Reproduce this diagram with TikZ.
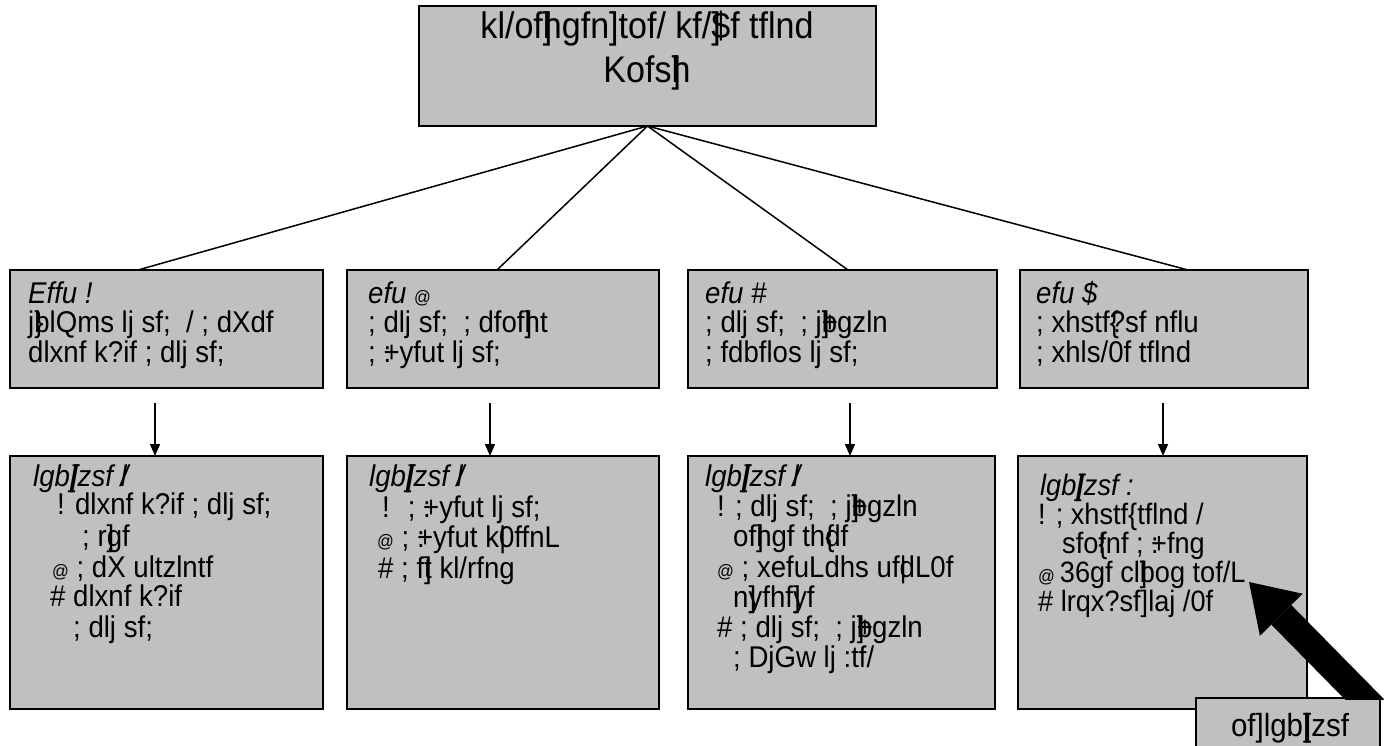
\documentclass[tikz,border=0pt]{standalone}
\usepackage{fontspec}
\setmainfont{Liberation Sans}[FakeStretch=0.92]
\usetikzlibrary{arrows.meta}
\newcommand\ovl[1]{\rlap{#1}}
\newcommand\smat{{\fontsize{18}{18}\selectfont @}}
\definecolor{boxgray}{RGB}{192,192,192}
\begin{document}
\begin{tikzpicture}[x=1pt,y=-1pt,
  box/.style={draw=black,line width=2pt,fill=boxgray,inner sep=0pt,outer sep=0pt},
  txt/.style={anchor=base west,inner sep=0pt,font=\fontsize{30}{30}\selectfont},
  bigtxt/.style={anchor=base west,inner sep=0pt,font=\fontsize{29.5}{29.5}\selectfont},
  toptxt/.style={anchor=base,inner sep=0pt,font=\fontsize{37}{37}\selectfont},
  link/.style={draw=black,line width=1.5pt},
  varrow/.style={draw=black,line width=1.5pt,-{Triangle[length=12pt,width=10pt]}}]
\useasboundingbox (0,0) rectangle (1384,746);
\fill[white] (0,0) rectangle (1384,746);
% boxes
\node[box,minimum width=457pt,minimum height=120pt] (T) at (647.5,66) {};
\node[box,minimum width=313pt,minimum height=118pt] (m1) at (166.5,329) {};
\node[box,minimum width=312pt,minimum height=118pt] (m2) at (503,329) {};
\node[box,minimum width=309pt,minimum height=118pt] (m3) at (842.5,329) {};
\node[box,minimum width=288pt,minimum height=118pt] (m4) at (1164,329) {};
\node[box,minimum width=313pt,minimum height=253pt] (b1) at (166.5,582.5) {};
\node[box,minimum width=312pt,minimum height=253pt] (b2) at (503,582.5) {};
\node[box,minimum width=307pt,minimum height=253pt] (b3) at (841.5,582.5) {};
\node[box,minimum width=289pt,minimum height=253pt] (b4) at (1162.5,582.5) {};
% links from top
\draw[link] (T.south) -- ([xshift=-28.5pt]m1.north);
\draw[link] (T.south) -- ([xshift=-6pt]m2.north);
\draw[link] (T.south) -- ([xshift=5.5pt]m3.north);
\draw[link] (T.south) -- ([xshift=24pt]m4.north);
% vertical arrows
\draw[varrow] ([shift={(-11.5,15)}]m1.south) -- ([xshift=-11.5pt]b1.north);
\draw[varrow] ([shift={(-13,15)}]m2.south) -- ([xshift=-13pt]b2.north);
\draw[varrow] ([shift={(7.5,15)}]m3.south) -- ([xshift=8.5pt]b3.north);
\draw[varrow] ([shift={(-1,15)}]m4.south) -- ([xshift=0.5pt]b4.north);
% big arrow and label
\node[box,minimum width=184pt,minimum height=62pt] (L) at (1288,729) {};
\coordinate (tip) at (1249,582);
\begin{scope}
\clip (0,0) rectangle (1384,699);
\draw[line width=28pt,-{Triangle[length=46pt,width=60pt,line width=0pt]}] ([shift={(-6,11)}]L.north east) -- (tip);
\end{scope}
\node[toptxt,font=\fontsize{32}{32}\selectfont] (Lt) at (1290,736) {of]lgb\ovl{]}[zsf};
% top text
\node[toptxt] (t1) at (647,39) {kl/of\ovl{]}hgfn]tof/ kf/\ovl{]}\$f tflnd};
\node[toptxt] (t2) at (647,83) {Kofs\ovl{]}h};
% middle texts
\node[txt] (m1a) at (28,303) {\textit{Effu !}};
\node[txt] (m1b) at (28,332) {j\ovl{\}}blQms lj sf; \ / ; dXdf};
\node[txt] (m1c) at (28,362) {dlxnf k?if ; dlj sf;};
\node[txt] (m2a) at (368,303) {\textit{efu} \smat};
\node[txt] (m2b) at (368,332) {; dlj sf; \ ; dfof\ovl{]}ht};
\node[txt] (m2c) at (368,362) {; \ovl{:}+yfut lj sf;};
\node[txt] (m3a) at (705,303) {\textit{efu \#}};
\node[txt] (m3b) at (705,332) {; dlj sf; \ ; j\ovl{+}\ovl{]}bgzln};
\node[txt] (m3c) at (705,362) {; fdbflos lj sf;};
\node[txt] (m4a) at (1036,303) {\textit{efu \$}};
\node[txt] (m4b) at (1036,332) {; xhstf\ovl{\{}?sf nflu};
\node[txt] (m4c) at (1036,362) {; xhls/0f tflnd};
% bottom box 1
\node[txt] (b1a) at (33,486) {\textit{lgb\ovl{]}[zsf \ovl{/}l}};
\node[txt] (b1b) at (57,514) {! dlxnf k?if ; dlj sf;};
\node[txt] (b1c) at (82,546) {; r\ovl{]}gf};
\node[txt] (b1d) at (52,577) {\smat\ ; dX ultzlntf};
\node[txt] (b1e) at (50,606) {\# dlxnf k?if};
\node[txt] (b1f) at (73,637) {; dlj sf;};
% bottom box 2
\node[txt] (b2a) at (369,486) {\textit{lgb\ovl{]}[zsf \ovl{/}l}};
\node[txt] (b2b) at (382,517) {! \ ; \ovl{:}+yfut lj sf;};
\node[txt] (b2c) at (377,547) {\smat\ ; \ovl{:}+yfut k\ovl{|}0ffnL};
\node[txt] (b2d) at (378,578) {\# ; f\ovl{]}t kl/rfng};
% bottom box 3
\node[txt] (b3a) at (705,486) {\textit{lgb\ovl{]}[zsf \ovl{/}l}};
\node[txt] (b3b) at (717,516) {! ; dlj sf; \ ; j\ovl{+}\ovl{]}bgzln};
\node[txt] (b3c) at (733,546) {of\ovl{]}hgf th\ovl{\{}df};
\node[txt] (b3d) at (717,577) {\smat\ ; xefuLdhs uf\ovl{|}dL0f};
\node[txt] (b3e) at (733,607) {n\ovl{]}yfhf\ovl{]}yf};
\node[txt] (b3f) at (717,637) {\# ; dlj sf; \ ; j\ovl{+}\ovl{]}bgzln};
\node[txt] (b3g) at (733,667) {; DjGw lj :tf/};
% bottom box 4
\node[bigtxt] (b4a) at (1040,495) {\textit{lgb\ovl{]}[zsf :}};
\node[bigtxt] (b4b) at (1038,524) {! ; xhstf\{tflnd /};
\node[bigtxt] (b4c) at (1062,553) {sfo\ovl{\{}fnf ; \ovl{:}+fng};
\node[bigtxt] (b4d) at (1038,582) {\smat\,36gf cl\ovl{]}bog tof/L};
\node[bigtxt] (b4e) at (1038,611) {\# lrqx?sf]laj /0f};
\end{tikzpicture}
\end{document}
